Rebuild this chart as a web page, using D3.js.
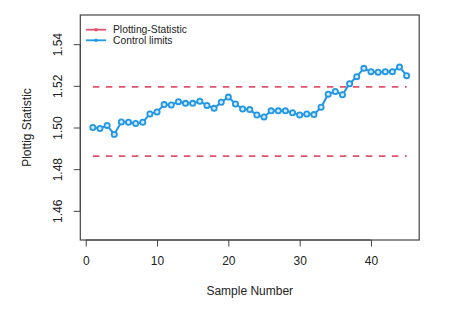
<!DOCTYPE html>
<html><head><meta charset="utf-8">
<script src="https://cdn.jsdelivr.net/npm/d3@7"></script>
<style>body{margin:0;background:#fff}svg{display:block}text{font-family:"Liberation Sans",Arial,sans-serif;fill:#222}</style>
</head><body><svg id="c" width="476" height="309"></svg>
<script>
const sampleNumbers = d3.range(1, 46);
const plottingStatistic = [1.5000,1.4995,1.5010,1.4967,1.5027,1.5025,1.5019,1.5025,1.5065,1.5075,
1.5110,1.5108,1.5124,1.5116,1.5116,1.5126,1.5106,1.5092,1.5121,1.5146,
1.5113,1.5089,1.5086,1.5060,1.5051,1.5080,1.5080,1.5080,1.5071,1.5060,
1.5065,1.5062,1.5097,1.5160,1.5173,1.5157,1.5210,1.5244,1.5284,1.5268,
1.5265,1.5268,1.5268,1.5290,1.5249];
const ucl = 1.5195, lcl = 1.4863;
const xTicks = [0,10,20,30,40];
const yTicks = [1.46,1.48,1.50,1.52,1.54];
const legendLabels = ["Plotting-Statistic","Control limits"];
const red = "#DF536B", blue = "#2297E6";

const svg = d3.select("#c");
const L=80.3, R=419.2, T=15, B=240;
const x = d3.scaleLinear().domain([-0.76,46.76]).range([L,R]);
const y = d3.scaleLinear().domain([1.446,1.554]).range([B,T]);

// control limits
[ucl,lcl].forEach(v=>{
  svg.append("line").attr("x1",x(1)).attr("x2",x(45)).attr("y1",y(v)).attr("y2",y(v))
    .attr("stroke",red).attr("stroke-width",1.8).attr("stroke-dasharray","6.5,6.5");
});
// series
const data = sampleNumbers.map((s,i)=>[s,plottingStatistic[i]]);
svg.append("path").datum(data).attr("fill","none").attr("stroke",blue).attr("stroke-width",2)
  .attr("d",d3.line().x(d=>x(d[0])).y(d=>y(d[1])));
svg.selectAll("circle.p").data(data).join("circle").attr("class","p")
  .attr("cx",d=>x(d[0])).attr("cy",d=>y(d[1])).attr("r",2.6)
  .attr("fill","#d4e9fa").attr("stroke",blue).attr("stroke-width",1.8);

// box
svg.append("rect").attr("x",L).attr("y",T).attr("width",R-L).attr("height",B-T)
  .attr("fill","none").attr("stroke","#444").attr("stroke-width",1.2);

// x axis
const gx = svg.append("g").attr("transform",`translate(0,${B})`)
  .call(d3.axisBottom(x).tickValues(xTicks).tickSize(6.5).tickPadding(10).tickFormat(d3.format("d")));
gx.select(".domain").attr("d",`M${x(0)},0H${x(40)}`).attr("stroke","#444");
gx.selectAll(".tick line").attr("stroke","#444");
gx.selectAll("text").attr("font-size",12).style("fill","#222").attr("font-family","Liberation Sans, Arial, sans-serif");

// y axis
const gy = svg.append("g").attr("transform",`translate(${L},0)`)
  .call(d3.axisLeft(y).tickValues(yTicks).tickSize(6.5).tickFormat(d3.format(".2f")));
gy.select(".domain").attr("d",`M0,${y(1.46)}V${y(1.54)}`).attr("stroke","#444");
gy.selectAll(".tick line").attr("stroke","#444");
gy.selectAll("text").attr("font-size",12).style("fill","#222").attr("font-family","Liberation Sans, Arial, sans-serif")
  .attr("x",null).attr("dy",null).attr("text-anchor","middle")
  .attr("transform","translate(-22,0) rotate(-90)").attr("dominant-baseline","central");

// axis titles
svg.append("text").attr("x",(L+R)/2).attr("y",295).attr("text-anchor","middle").attr("font-size",12).text("Sample Number");
svg.append("text").attr("transform",`translate(31,${(T+B)/2}) rotate(-90)`).attr("text-anchor","middle").attr("font-size",12).text("Plottig Statistic");

// legend
legendLabels.forEach((lab,i)=>{
  const ly = 29.7 + i*10.6;
  const c = i===0?red:blue;
  svg.append("line").attr("x1",86).attr("x2",106).attr("y1",ly).attr("y2",ly).attr("stroke",c).attr("stroke-width",1.8);
  svg.append("circle").attr("cx",96).attr("cy",ly).attr("r",1.8).attr("fill",c);
  svg.append("text").attr("x",113).attr("y",ly).attr("dominant-baseline","central").attr("font-size",10.3).text(lab);
});
</script></body></html>
